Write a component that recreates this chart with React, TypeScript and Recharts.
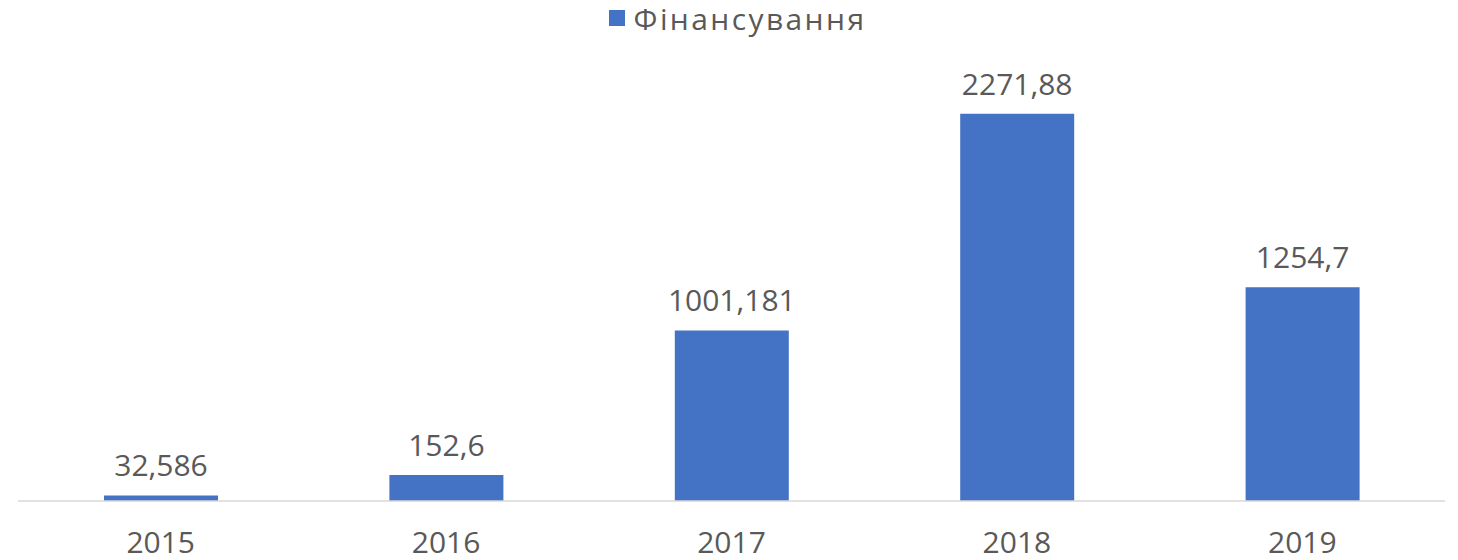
import React from 'react';
import { BarChart, Bar, XAxis, YAxis, Legend, LabelList } from 'recharts';

const years = ['2015', '2016', '2017', '2018', '2019'];
const funding = [32.586, 152.6, 1001.181, 2271.88, 1254.7];
const seriesName = 'Фінансування';

const data = years.map((year, i) => ({ year, value: funding[i] }));

const FONT = '"Open Sans", sans-serif';
const TEXT = '#595959';
const BAR = '#4472C4';

const formatValue = (v: any) => String(v).replace('.', ',');

const LegendContent = () => (
    <div
        style={{
            display: 'flex',
            alignItems: 'center',
            justifyContent: 'center',
            height: 36,
            fontFamily: FONT,
            fontSize: 30,
            letterSpacing: 2.4,
            color: TEXT,
            paddingLeft: 12,
        }}
    >
        <span style={{ width: 16, height: 16, background: BAR, marginRight: 9 }} />
        <span>{seriesName}</span>
    </div>
);

const App: React.FC = () => {
    return (
        <div style={{ position: 'absolute', left: 0, top: 0, width: 1458, height: 560, background: '#fff' }}>
            <BarChart
                width={1458}
                height={560}
                data={data}
                barCategoryGap="30%"
                margin={{ top: 39, right: 13, left: 18, bottom: 0 }}
            >
                <Legend
                    verticalAlign="top"
                    align="center"
                    height={36}
                    wrapperStyle={{ top: 0 }}
                    content={<LegendContent />}
                />
                <XAxis
                    dataKey="year"
                    height={59}
                    tickLine={false}
                    tickSize={6}
                    tickMargin={25}
                    axisLine={{ stroke: '#d9d9d9', strokeWidth: 1.5 }}
                    tick={{ fill: TEXT, fontSize: 30, fontFamily: FONT }}
                />
                <YAxis hide domain={[0, 2500]} />
                <Bar dataKey="value" fill={BAR} barSize={114} isAnimationActive={false}>
                    <LabelList
                        dataKey="value"
                        position="top"
                        offset={19}
                        formatter={formatValue}
                        style={{ fill: TEXT, fontSize: 30, fontFamily: FONT }}
                    />
                </Bar>
            </BarChart>
        </div>
    );
};

export default App;
